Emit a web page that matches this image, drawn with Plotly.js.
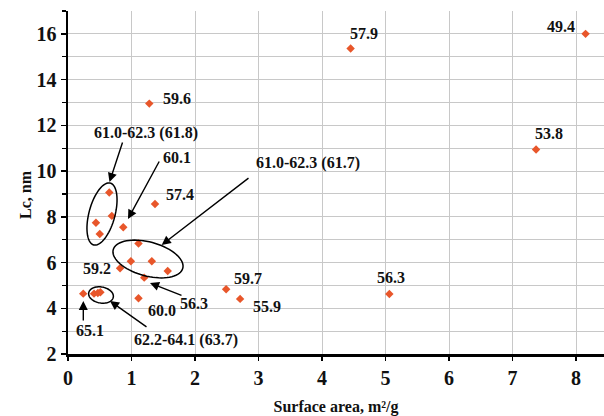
<!DOCTYPE html>
<html>
<head>
<meta charset="utf-8">
<script src="https://cdn.plot.ly/plotly-3.0.1.min.js"></script>
<style>html,body{margin:0;padding:0;background:#fff;}#chart{width:604px;height:416px;}</style>
</head>
<body>
<div id="chart"></div>
<script>
// ---- data ----
const surfaceArea = [1.28, 4.45, 8.15, 7.37, 5.06, 2.49, 2.71, 0.65, 0.69, 0.44, 0.50, 0.87, 1.37, 1.11, 0.99, 1.32, 1.57, 0.82, 1.20, 0.24, 0.41, 0.47, 0.51, 1.11];
const lc          = [12.95, 15.36, 16.0, 10.94, 4.62, 4.83, 4.41, 9.06, 8.04, 7.74, 7.25, 7.54, 8.56, 6.83, 6.06, 6.06, 5.63, 5.75, 5.34, 4.64, 4.64, 4.67, 4.70, 4.44];
const pointLabels = ['59.6','57.9','49.4','53.8','56.3','59.7','55.9','','','','','60.1','57.4','','','','','59.2','56.3','65.1','','','','60.0'];
const groupLabels = ['61.0-62.3 (61.8)', '61.0-62.3 (61.7)', '62.2-64.1 (63.7)'];
const xTitle = 'Surface area, m\u00B2/g';
const yTitle = 'Lc, nm';

// ---- layout geometry ----
const W = 604, H = 416;
const M = {l: 68, r: 0, t: 11, b: 62};
const xRange = [0, 8.44], yRange = [2, 17];
const pw = W - M.l - M.r, ph = H - M.t - M.b;
const pxX = pw / (xRange[1] - xRange[0]);
const pxY = ph / (yRange[1] - yRange[0]);
const toX = px => xRange[0] + (px - M.l) / pxX;
const toY = py => yRange[0] + (M.t + ph - py) / pxY;
const toPaperX = px => (px - M.l) / pw;
const toPaperY = py => (M.t + ph - py) / ph;

const SERIF = 'Liberation Serif';
const labelFont = {family: SERIF, size: 16, color: '#111', weight: 'bold'};

// label offsets (pixels, screen) for each labelled point
const labelOffsets = {0:[28,-5],1:[13,-15],2:[-25,-7],3:[13,-16],4:[2,-17],5:[22,-11],6:[27,8],11:[54,-70],12:[25,-9],17:[-23,0],18:[50,26],19:[7,37],23:[24,12]};

const annotations = [];
pointLabels.forEach((t, i) => {
  if (!t) return;
  const o = labelOffsets[i];
  annotations.push({x: surfaceArea[i], y: lc[i], xref: 'x', yref: 'y', text: t, showarrow: false,
    xshift: o[0], yshift: -o[1], font: labelFont, xanchor: 'center', yanchor: 'middle'});
});
const groupPos = [[146, 133], [308, 163], [186, 340]];
groupLabels.forEach((t, k) => {
  annotations.push({x: toX(groupPos[k][0]), y: toY(groupPos[k][1]), xref: 'x', yref: 'y', text: t,
    showarrow: false, font: labelFont, xanchor: 'center', yanchor: 'middle'});
});

// arrows: [headPx, tailPx]
const arrows = [
  [[109.5, 182], [123, 141]],
  [[128, 219], [160, 160]],
  [[161.7, 245], [250, 177]],
  [[150, 283], [183, 296]],
  [[83.3, 301], [83.3, 322]],
  [[110, 301], [148, 328]]
];
arrows.forEach(a => {
  annotations.push({x: toX(a[0][0]), y: toY(a[0][1]), xref: 'x', yref: 'y', text: '',
    showarrow: true, ax: a[1][0] - a[0][0], ay: a[1][1] - a[0][1],
    arrowhead: 2, arrowsize: 1.3, arrowwidth: 1.4, arrowcolor: '#000', standoff: 0});
});

// y-axis title
annotations.push({xref: 'paper', yref: 'paper', x: toPaperX(25), y: toPaperY(195), text: yTitle,
  textangle: -90, showarrow: false, font: {family: SERIF, size: 16, color: '#111', weight: 'bold'},
  xanchor: 'center', yanchor: 'middle'});

// ellipses (center px, semi-axes px, rotation deg in screen coords)
const ellipses = [
  [[102, 214], 32, 13, -75],
  [[148, 259], 36, 17, 15],
  [[101, 295], 12.5, 8, 10]
];
const shapes = ellipses.map(e => {
  const [c, a, b, angDeg] = e;
  const ang = angDeg * Math.PI / 180;
  let d = '';
  for (let k = 0; k <= 72; k++) {
    const t = k / 72 * 2 * Math.PI;
    const dx = a * Math.cos(t) * Math.cos(ang) - b * Math.sin(t) * Math.sin(ang);
    const dy = a * Math.cos(t) * Math.sin(ang) + b * Math.sin(t) * Math.cos(ang);
    d += (k === 0 ? 'M' : 'L') + toX(c[0] + dx) + ',' + toY(c[1] + dy) + ' ';
  }
  return {type: 'path', xref: 'x', yref: 'y', path: d + 'Z', line: {color: '#000', width: 1.5}};
});

const trace = {
  x: surfaceArea, y: lc, type: 'scatter', mode: 'markers',
  marker: {symbol: 'diamond', size: 6.5, color: '#E8562A'},
  hoverinfo: 'x+y'
};

const tickFont = {family: SERIF, size: 20, color: '#111', weight: 'bold'};
const layout = {
  width: W, height: H, margin: M,
  paper_bgcolor: '#fff', plot_bgcolor: '#fff',
  showlegend: false,
  xaxis: {
    range: xRange, dtick: 1, tick0: 0, showgrid: true, gridcolor: '#c8c8c8', gridwidth: 1,
    zeroline: false, showline: true, linecolor: '#000', linewidth: 2.5,
    ticks: 'outside', ticklen: 4, tickwidth: 1.5, tickcolor: '#000',
    tickfont: tickFont,
    title: {text: xTitle, font: {family: SERIF, size: 16, color: '#111', weight: 'bold'}, standoff: 16}
  },
  yaxis: {
    range: yRange, dtick: 2, tick0: 0, showgrid: true, gridcolor: '#c8c8c8', gridwidth: 1,
    zeroline: false, showline: true, linecolor: '#000', linewidth: 2.5,
    ticks: 'outside', ticklen: 5, tickwidth: 1.5, tickcolor: '#000',
    tickfont: tickFont,
    minor: {dtick: 1, tick0: 0, ticks: 'outside', ticklen: 4, tickwidth: 1.2, tickcolor: '#000', showgrid: true, gridcolor: '#c8c8c8', gridwidth: 1}
  },
  annotations: annotations,
  shapes: shapes
};

Plotly.newPlot('chart', [trace], layout, {staticPlot: true, displayModeBar: false});
</script>
</body>
</html>
